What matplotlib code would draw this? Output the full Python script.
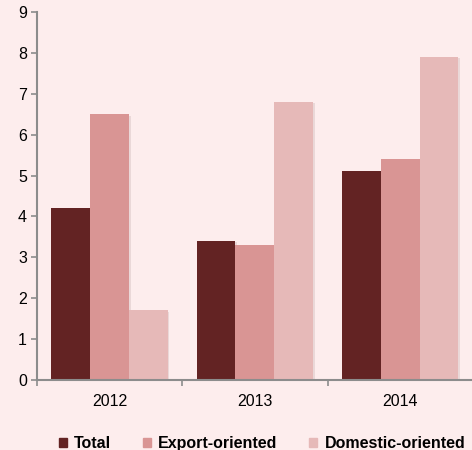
import numpy as np
import matplotlib.pyplot as plt
from matplotlib.patches import Patch

plt.rcParams['font.family'] = ['Liberation Sans', 'DejaVu Sans']

years = ["2012", "2013", "2014"]
total = [4.2, 3.4, 5.1]
export_oriented = [6.5, 3.3, 5.4]
domestic_oriented = [1.7, 6.8, 7.9]

series = [("Total", total, "#632323"),
          ("Export-oriented", export_oriented, "#D99594"),
          ("Domestic-oriented", domestic_oriented, "#E6B9B8")]

bg = "#FDEDED"
fig = plt.figure(figsize=(4.72, 4.5), dpi=100, facecolor=bg)
ax = fig.add_axes([0.078, 0.156, 0.924, 0.817], facecolor=bg)

x = np.arange(len(years))
w = 0.267
for i, (name, vals, col) in enumerate(series):
    # soft shadow
    ax.bar(x + (i - 1) * w + 0.012, vals, w, bottom=-0.03, color="#d8c4c4", alpha=0.5, zorder=1)
    ax.bar(x + (i - 1) * w, vals, w, color=col, zorder=2)

ax.set_xlim(-0.5, 2.5)
ax.set_ylim(0, 9)
ax.set_yticks(range(10))
ax.set_xticks([-0.5, 0.5, 1.5, 2.5])
ax.set_xticklabels([])
ax.set_xticks(x, minor=True)
ax.set_xticklabels(years, minor=True)
ax.tick_params(axis='x', which='minor', length=0, pad=10, labelsize=11.5)
ax.tick_params(axis='x', which='major', length=4, color="#8c8c8c", width=1.2)
ax.tick_params(axis='y', length=4, color="#8c8c8c", width=1.2, labelsize=11.5, pad=3)
for s in ["top", "right"]:
    ax.spines[s].set_visible(False)
for s in ["left", "bottom"]:
    ax.spines[s].set_color("#8c8c8c")
    ax.spines[s].set_linewidth(1.5)

handles = [Patch(color=c, label=n) for n, _, c in series]
leg = fig.legend(handles=handles, loc="center", bbox_to_anchor=(0.555, 0.015), ncol=3,
                 frameon=False, handlelength=0.5, handleheight=0.5, handletextpad=0.45,
                 columnspacing=2.0, prop={'weight': 'bold', 'size': 11.5})

fig.savefig("out.png", facecolor=bg)
